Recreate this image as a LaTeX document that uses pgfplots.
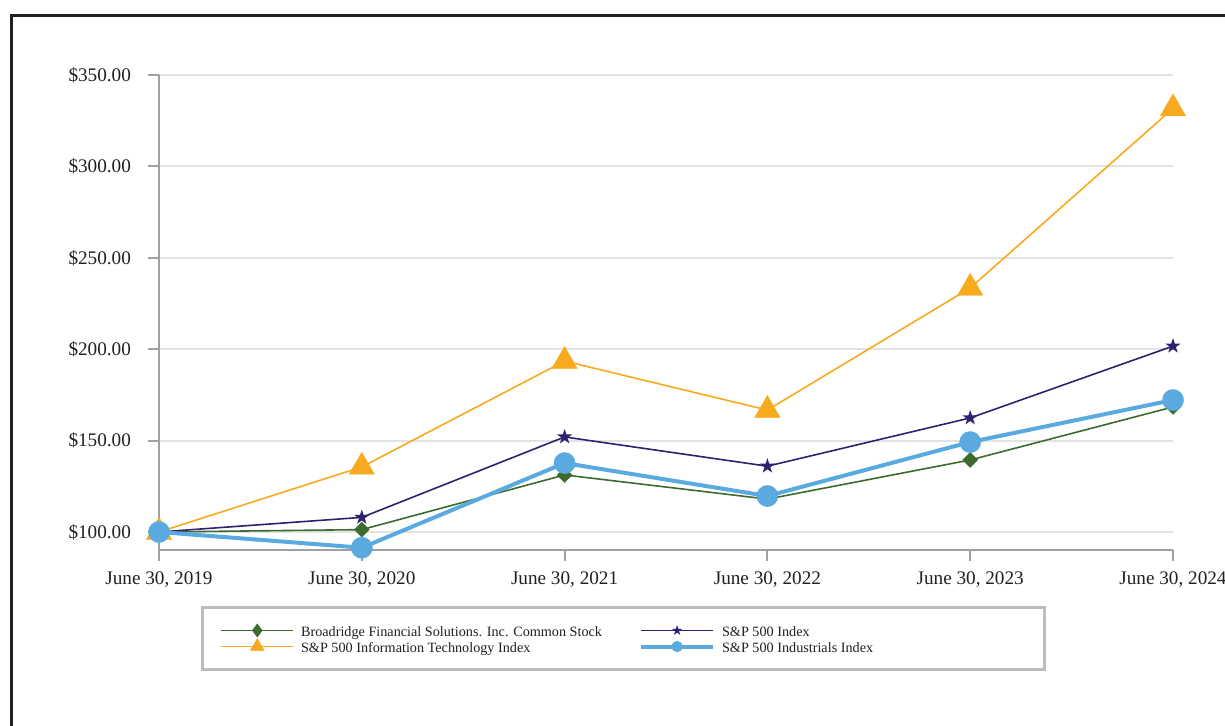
\documentclass[border=0pt]{standalone}
\usepackage{fontspec}
\setmainfont{Liberation Serif}
\usepackage{pgfplots}
\pgfplotsset{compat=1.18}
\definecolor{cgreen}{HTML}{3D6B2E}
\definecolor{cpurple}{HTML}{2F2170}
\definecolor{corange}{HTML}{F8AA1F}
\definecolor{cblue}{HTML}{5BAADF}
\definecolor{cgrid}{HTML}{E3E3E3}
\definecolor{caxis}{HTML}{A0A0A4}
\definecolor{cframe}{HTML}{231F20}
\definecolor{clegend}{HTML}{BDBDC0}
\definecolor{ctext}{HTML}{231F20}
\pgfdeclareplotmark{fstar}{%
  \pgfpathmoveto{\pgfpointpolar{90}{\pgfplotmarksize}}%
  \pgfpathlineto{\pgfpointpolar{126}{0.382\pgfplotmarksize}}%
  \pgfpathlineto{\pgfpointpolar{162}{\pgfplotmarksize}}%
  \pgfpathlineto{\pgfpointpolar{198}{0.382\pgfplotmarksize}}%
  \pgfpathlineto{\pgfpointpolar{234}{\pgfplotmarksize}}%
  \pgfpathlineto{\pgfpointpolar{270}{0.382\pgfplotmarksize}}%
  \pgfpathlineto{\pgfpointpolar{306}{\pgfplotmarksize}}%
  \pgfpathlineto{\pgfpointpolar{342}{0.382\pgfplotmarksize}}%
  \pgfpathlineto{\pgfpointpolar{18}{\pgfplotmarksize}}%
  \pgfpathlineto{\pgfpointpolar{54}{0.382\pgfplotmarksize}}%
  \pgfpathclose
  \pgfusepathqfill
}
\begin{document}
\begin{tikzpicture}
\useasboundingbox (0,0) rectangle (612.5pt,362.5pt);
\draw[cframe, line width=1.75pt] (5.75pt,-20pt) rectangle (640pt,354.75pt);
\begin{axis}[
  at={(79.5pt,87.5pt)}, anchor=south west,
  scale only axis, width=507pt, height=237.5pt,
  xmin=0, xmax=5, ymin=90.15, ymax=350,
  axis lines*=left,
  axis line style={caxis, line width=1pt},
  xtick={0,...,5},
  xticklabels={{June 30, 2019},{June 30, 2020},{June 30, 2021},{June 30, 2022},{June 30, 2023},{June 30, 2024}},
  ytick={100,150,...,350},
  yticklabels={\$100.00,\$150.00,\$200.00,\$250.00,\$300.00,\$350.00},
  tick align=outside, major tick length=5.5pt,
  tick style={caxis, line width=1pt},
  ymajorgrids, grid style={cgrid, line width=1pt},
  tick label style={font=\fontsize{9.6}{11}\selectfont, text=ctext},
  yticklabel style={xshift=-5pt},
  xticklabel style={yshift=-2pt},
  clip=false,
  legend image code/.code={\draw[mark repeat=2,mark phase=2,#1] plot coordinates {(0pt,0pt) (18pt,0pt) (36pt,0pt)};},
  legend columns=2,
  legend cell align=left,
  legend style={at={(0.0429,-0.1211)}, anchor=north west, draw=clegend, line width=1.5pt,
    inner xsep=9pt, inner ysep=7.5pt, outer sep=0pt, column sep=0pt, row sep=0pt,
    font=\fontsize{7.1}{8}\selectfont, text=ctext,
    nodes={inner xsep=3.5pt, inner ysep=0pt, text height=7.2pt, text depth=0.8pt}},
]
\addplot[cgreen, line width=0.8pt, mark=square*, mark size=2.65pt,
  mark options={rotate=45, line width=0.2pt, fill=cgreen},
  legend image post style={mark=diamond*, mark size=3.3pt, mark options={rotate=0, fill=cgreen, line width=0.2pt}}]
  coordinates {(0,100) (1,101.3) (2,131.2) (3,118) (4,139.4) (5,168.4)};
\addlegendentry{\makebox[165.5pt][l]{Broadridge Financial Solutions. Inc. Common Stock}}
\addplot[cpurple, line width=0.8pt, mark=fstar, mark size=4pt,
  mark options={fill=cpurple},
  legend image post style={mark size=2.7pt}]
  coordinates {(0,100) (1,108) (2,152) (3,136) (4,162.4) (5,201.7)};
\addlegendentry{\makebox[148.75pt][l]{S\&P 500 Index}}
\addplot[corange, line width=0.8pt, mark=triangle*, mark size=7.3pt,
  mark options={fill=corange, line width=0.2pt},
  legend image post style={mark size=4pt}]
  coordinates {(0,100) (1,135.6) (2,193.5) (3,166.7) (4,233.5) (5,331.7)};
\addlegendentry{\makebox[165.5pt][l]{S\&P 500 Information Technology Index}}
\addplot[cblue, line width=2pt, mark=*, mark size=5.3pt,
  mark options={fill=cblue, draw=cblue, line width=0.2pt},
  legend image post style={mark size=2.7pt}]
  coordinates {(0,100) (1,91.4) (2,137.7) (3,119.7) (4,149.2) (5,172.2)};
\addlegendentry{\makebox[148.75pt][l]{S\&P 500 Industrials Index}}
\end{axis}
\end{tikzpicture}
\end{document}
